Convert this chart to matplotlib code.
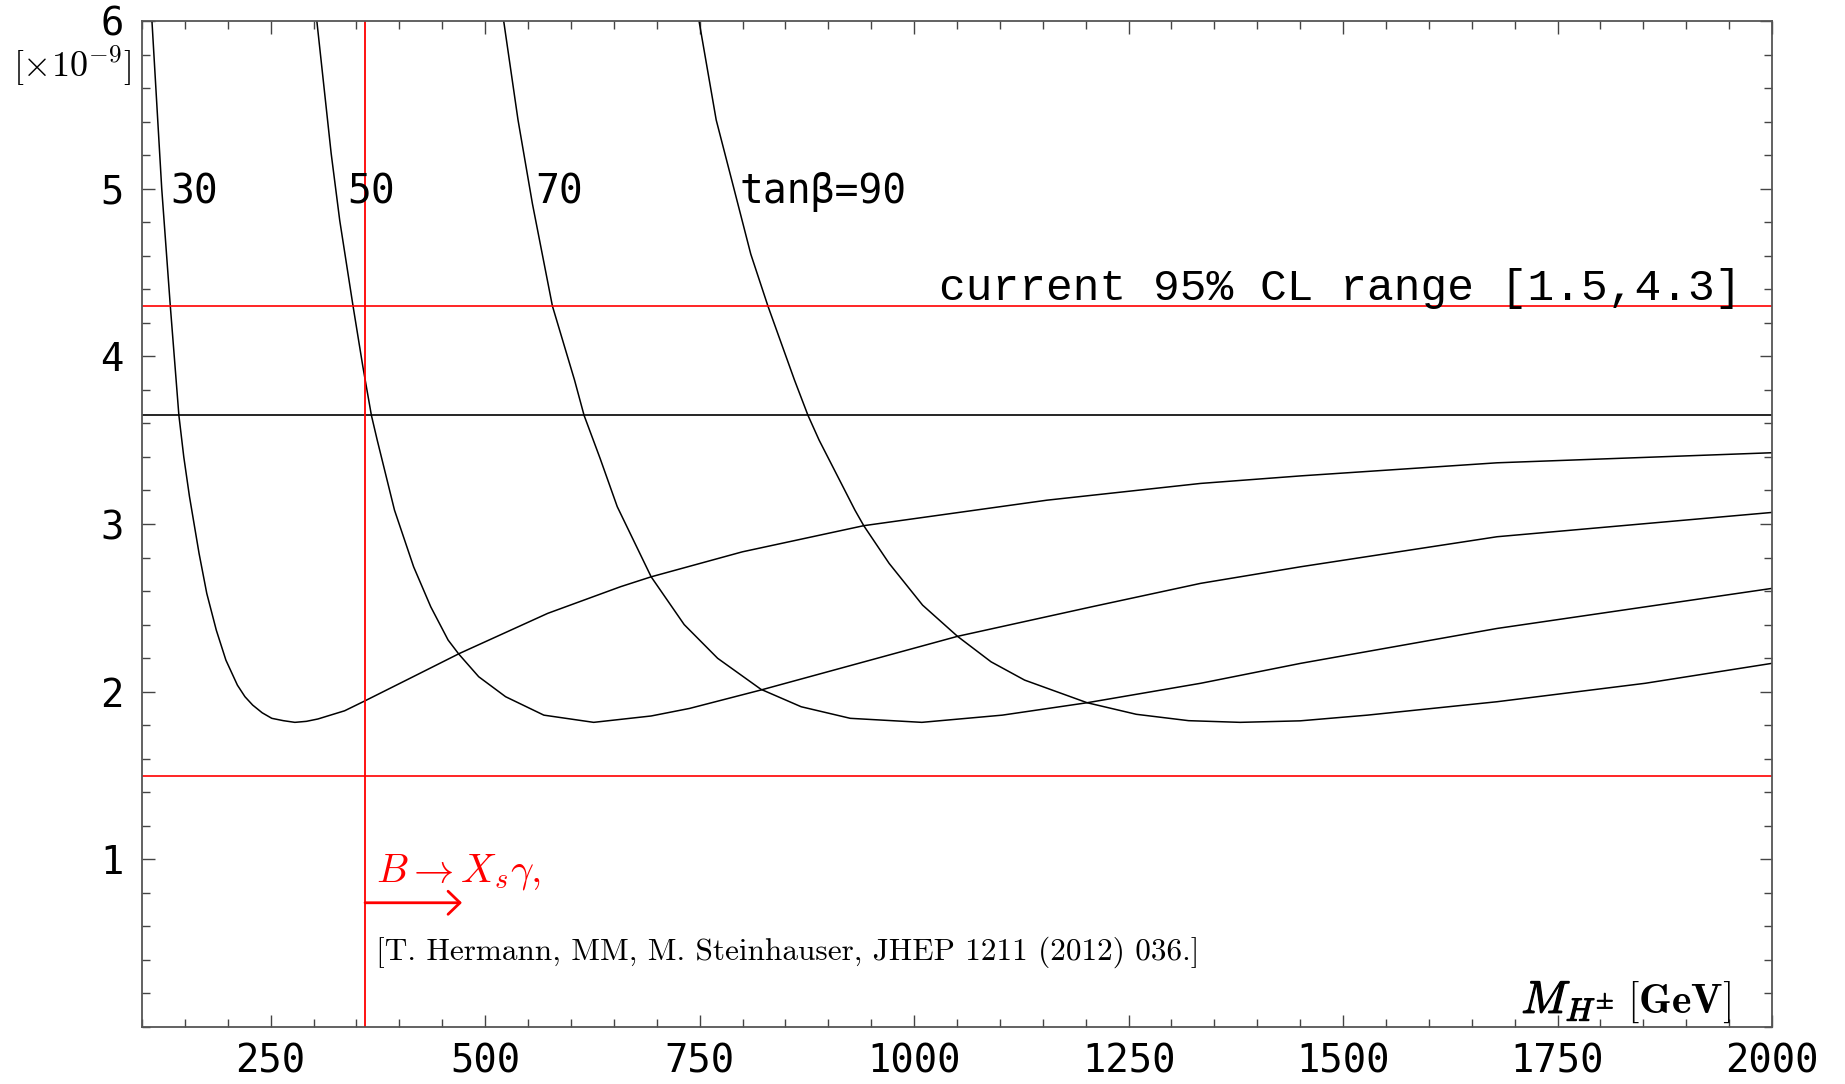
import matplotlib
matplotlib.use('Agg')
import matplotlib.pyplot as plt
import matplotlib.patheffects as pe
from matplotlib.ticker import MultipleLocator, FixedLocator

plt.rcParams['mathtext.fontset'] = 'cm'

# BR(Bs -> mu mu) [x 1e-9] against M_H+ [GeV]
m30 = [111.6, 123, 133, 143, 148.7, 155.3, 166.5, 175.5, 186.6, 197.8, 211.2, 220, 229,
       240.1, 251.3, 264.8, 278.2, 291.6, 305, 336.2, 359.4, 412.1, 470.1, 572.9, 657.8,
       693.5, 799.8, 941.3, 1154.8, 1334, 1450.7, 1679.5, 2000]
br30 = [6.0, 5.0, 4.3, 3.648, 3.40, 3.165, 2.825, 2.586, 2.367, 2.188, 2.039, 1.97, 1.92,
        1.874, 1.841, 1.827, 1.817, 1.823, 1.837, 1.886, 1.944, 2.079, 2.228, 2.467, 2.626,
        2.685, 2.834, 2.99, 3.142, 3.242, 3.287, 3.365, 3.425]

m50 = [303.8, 320.5, 330.5, 346, 357.4, 367.4, 374.2, 394.3, 416.6, 436.6, 456.8, 469.3,
       492.5, 523.8, 568.4, 626.5, 693.5, 738.2, 821.5, 1050.6, 1206.9, 1334, 1450.7, 1679.5, 2000]
br50 = [6.0, 5.21, 4.81, 4.30, 3.94, 3.648, 3.50, 3.083, 2.745, 2.506, 2.308, 2.224,
        2.089, 1.97, 1.86, 1.817, 1.855, 1.90, 2.01, 2.33, 2.506, 2.646, 2.745, 2.924, 3.069]

m70 = [521.6, 538.3, 555.1, 578.4, 604.2, 615.3, 634, 654, 693.5, 732, 771, 821.5, 868.4,
       925.6, 1009, 1102.8, 1201.7, 1334, 1450.7, 1679.5, 2000]
br70 = [6.0, 5.41, 4.91, 4.30, 3.858, 3.648, 3.391, 3.103, 2.685, 2.40, 2.199, 2.014, 1.91,
        1.841, 1.817, 1.86, 1.934, 2.05, 2.169, 2.377, 2.616]

m90 = [749.3, 769.3, 789.5, 809.6, 829.6, 860.6, 876.3, 889.3, 931, 941.3, 970.9, 1009.9,
       1050.6, 1089.7, 1128.8, 1201.7, 1259, 1320, 1380, 1450, 1528.3, 1679.5, 1852.2, 2000]
br90 = [6.0, 5.41, 5.01, 4.61, 4.30, 3.858, 3.648, 3.50, 3.083, 2.99, 2.765, 2.516,
        2.33, 2.178, 2.069, 1.934, 1.865, 1.827, 1.817, 1.826, 1.86, 1.94, 2.05, 2.169]

curve_labels = ['30', '50', '70', 'tanβ=90']
label_x = [133, 339, 558, 796]
label_y = 4.98

cl_low, cl_high = 1.5, 4.3
sm_value = 3.65
mh_bound = 360

fig = plt.figure(figsize=(18.45, 10.84), dpi=100)
ax = fig.add_axes([142 / 1845, 1 - 1027 / 1084, 1630 / 1845, 1006 / 1084])

for m, br in [(m30, br30), (m50, br50), (m70, br70), (m90, br90)]:
    ax.plot(m, br, color='black', lw=1.1)

ax.axhline(cl_high, color='red', lw=1.2)
ax.axhline(cl_low, color='red', lw=1.2)
ax.axhline(sm_value, color='black', lw=1.2)
ax.axvline(mh_bound, color='red', lw=1.3)

for lab, x in zip(curve_labels, label_x):
    ax.text(x, label_y, lab, fontfamily='DejaVu Sans Mono', fontsize=28.5,
            ha='left', va='center')

ax.text(1965, 4.335, 'current 95% CL range [1.5,4.3]', fontfamily='Liberation Mono',
        fontsize=32, ha='right', va='baseline')

ax.text(373, 0.866, r'$B\rightarrow X_s\gamma,$', color='red', fontsize=29,
        ha='left', va='baseline')
ax.annotate('', xy=(473, 0.741), xytext=(mh_bound, 0.741),
            arrowprops=dict(arrowstyle='->,head_length=0.86,head_width=0.83',
                            color='red', lw=2, shrinkA=0, shrinkB=0))
ax.text(373, 0.40, '[T. Hermann, MM, M. Steinhauser, JHEP 1211 (2012) 036.]',
        fontfamily='cmr10', fontsize=22.5, ha='left', va='baseline')

# axis title drawn inside the frame, bottom right
ax.text(1816, 0.083, r'$M_{H^{\pm}}$', fontsize=33, ha='right', va='baseline',
        path_effects=[pe.withStroke(linewidth=0.9, foreground='black')])
ax.text(1952, 0.083, r'$\mathbf{[GeV]}$', fontsize=30, ha='right', va='baseline')
fig.text(131 / 1845, 1 - 66 / 1084, r'$[\times 10^{-9}]$', fontsize=26,
         ha='right', va='center')

ax.set_xlim(100, 2000)
ax.set_ylim(0, 6)
ax.xaxis.set_major_locator(MultipleLocator(250))
ax.xaxis.set_minor_locator(MultipleLocator(50))
ax.yaxis.set_major_locator(FixedLocator([1, 2, 3, 4, 5, 6]))
ax.yaxis.set_minor_locator(MultipleLocator(0.2))
ax.tick_params(which='both', direction='in', top=True, right=True, color='#444', width=1)
ax.tick_params(which='major', length=9, labelsize=28, pad=13)
ax.tick_params(axis='x', which='major', pad=11)
ax.tick_params(which='minor', length=6)
for lab in ax.get_xticklabels() + ax.get_yticklabels():
    lab.set_fontfamily('DejaVu Sans Mono')
for s in ax.spines.values():
    s.set_color('#555')
    s.set_linewidth(1.3)

fig.savefig('out.png', dpi=100)
